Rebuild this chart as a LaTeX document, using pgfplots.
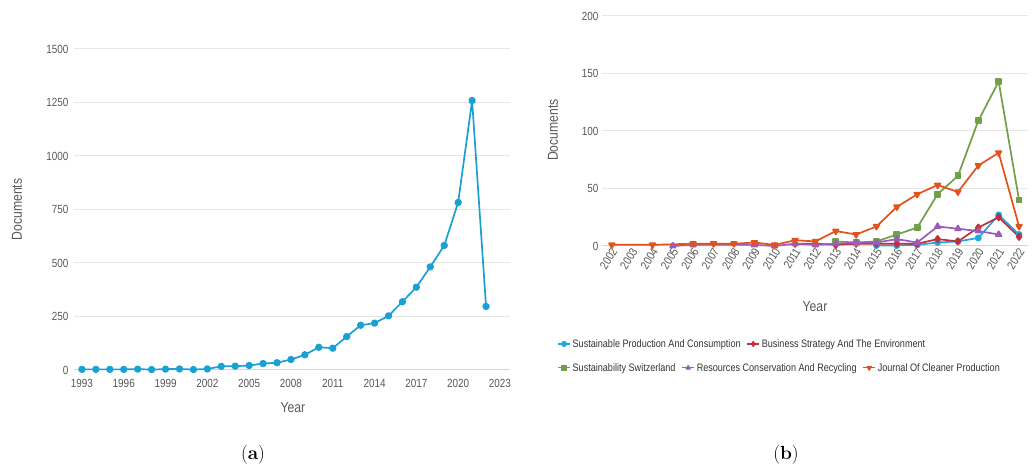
\documentclass[border=0pt]{standalone}
\usepackage{pgfplots}
\pgfplotsset{compat=1.18}
\usepackage{fontspec}
\newfontfamily\nf[FakeStretch=0.84]{Liberation Sans}
\definecolor{cA}{RGB}{27,160,212}
\definecolor{cB}{RGB}{30,168,222}
\definecolor{cR}{RGB}{196,45,58}
\definecolor{cG}{RGB}{112,160,72}
\definecolor{cP}{RGB}{155,90,190}
\definecolor{cO}{RGB}{226,82,26}
\definecolor{gridc}{RGB}{230,230,230}
\definecolor{axl}{RGB}{204,214,235}
\definecolor{tk}{RGB}{88,88,88}
\pgfplotsset{
  hc/.style={
    scale only axis, clip=false,
    axis line style={draw=none},
    ymajorgrids, major grid style={draw=gridc, line width=1pt},
    tick style={draw=none},
    ticklabel style={font=\nf\fontsize{11.8}{12}\selectfont, text=tk},
    label style={font=\nf\fontsize{14.5}{15}\selectfont, text=tk},
    /pgf/number format/assume math mode=true,
    /pgf/number format/1000 sep={},
    every axis plot/.append style={line width=1.7pt, line join=round},
  },
  legimg/.style={legend image code/.code={\draw[##1, line width=1.2pt, mark size=2.4pt, mark repeat=2, mark phase=2] plot coordinates {(0pt,0pt) (6pt,0pt) (12pt,0pt)};}},
}
\begin{document}
\begin{tikzpicture}
\useasboundingbox (0pt,0pt) rectangle (1034pt,471pt);
% ---------------- (a)
\begin{axis}[hc, at={(74pt,101pt)}, anchor=south west,
  width=436pt, height=321pt,
  xmin=1992.43, xmax=2023.72, ymin=0, ymax=1500,
  xtick={1993,1996,...,2023}, ytick={0,250,...,1500},
  xticklabel style={yshift=-6pt},
  yticklabel style={xshift=-2pt},
  xlabel={Year}, ylabel={Documents},
  xlabel style={at={(axis description cs:0.502,-0.118)}, anchor=center},
  ylabel style={at={(axis description cs:-0.131,0.5)}, anchor=center, rotate=0},
]
\draw[axl, line width=1pt] (axis cs:1992.43,0) -- (axis cs:2023.72,0);
\addplot[cA, mark=*, mark size=2.8pt, mark options={solid}] coordinates {
(1993,3)(1994,3)(1995,3)(1996,3)(1997,4)(1998,2)(1999,4)(2000,5)(2001,2)(2002,5)
(2003,17)(2004,18)(2005,21)(2006,30)(2007,34)(2008,49)(2009,71)(2010,106)(2011,102)
(2012,156)(2013,209)(2014,219)(2015,253)(2016,319)(2017,387)(2018,482)(2019,582)
(2020,783)(2021,1259)(2022,297)};
\end{axis}
% ---------------- (b)
\begin{axis}[hc, legimg, at={(602pt,225pt)}, anchor=south west,
  width=426pt, height=230pt,
  xmin=2001.52, xmax=2022.44, ymin=0, ymax=200,
  xtick={2002,2003,...,2022}, ytick={0,50,...,200},
  xticklabel style={rotate=58, anchor=east, yshift=-4pt, xshift=2pt},
  xlabel={Year}, ylabel={Documents},
  xlabel style={at={(axis description cs:0.5,-0.265)}, anchor=center},
  ylabel style={at={(axis description cs:-0.115,0.504)}, anchor=center, rotate=0},
  legend style={at={(axis description cs:-0.112,-0.426)}, anchor=west, draw=none, fill=none,
    font=\nf\fontsize{10.8}{11}\selectfont, text=black!80,
    /tikz/every even column/.append style={column sep=4pt}},
  legend columns=2, legend cell align=left,
]
\draw[axl, line width=1pt] (axis cs:2001.52,0) -- (axis cs:2022.44,0);
\addplot[cB, mark=*, mark size=2.6pt] coordinates {
(2015,0.5)(2016,0.5)(2017,1)(2018,3)(2019,4)(2020,7)(2021,27)(2022,10)};
\addplot[cR, mark=diamond*, mark size=3.2pt] coordinates {
(2011,2)(2012,2)(2013,1)(2014,2)(2015,2)(2016,2)(2017,2)(2018,6)(2019,4)(2020,16)(2021,25)(2022,8)};
\legend{Sustainable Production And Consumption, Business Strategy And The Environment}
\end{axis}
\begin{axis}[hide axis, legimg, scale only axis, clip=false, at={(602pt,225pt)}, anchor=south west,
  width=426pt, height=230pt,
  xmin=2001.52, xmax=2022.44, ymin=0, ymax=200,
  every axis plot/.append style={line width=1.7pt, line join=round},
  legend style={at={(axis description cs:-0.112,-0.530)}, anchor=west, draw=none, fill=none,
    font=\nf\fontsize{10.8}{11}\selectfont, text=black!80,
    /tikz/every even column/.append style={column sep=4pt}},
  legend columns=3, legend cell align=left,
]
\addplot[cG, mark=square*, mark size=2.6pt] coordinates {
(2013,4)(2014,3)(2015,4)(2016,10)(2017,16)(2018,45)(2019,61)(2020,109)(2021,143)(2022,40)};
\addplot[cP, mark=triangle*, mark size=3.2pt] coordinates {
(2005,0)(2006,1)(2009,1)(2010,0)(2011,2)(2012,1)(2013,2)(2014,3)(2015,3)(2016,6)(2017,3)(2018,17)(2019,15)(2020,13)(2021,10)};
\addplot[cO, mark=triangle*, mark options={rotate=180}, mark size=3.2pt] coordinates {
(2002,1)(2004,1)(2006,2)(2007,2)(2008,2)(2009,3)(2010,1)(2011,5)(2012,4)(2013,13)(2014,10)(2015,17)(2016,34)(2017,45)(2018,53)(2019,47)(2020,70)(2021,81)(2022,17)};
\legend{Sustainability Switzerland, Resources Conservation And Recycling, Journal Of Cleaner Production}
\end{axis}
\node[font=\fontsize{19}{20}\selectfont] at (253pt,16pt) {(\textbf{a})};
\node[font=\fontsize{19}{20}\selectfont] at (786pt,16pt) {(\textbf{b})};
\end{tikzpicture}
\end{document}
